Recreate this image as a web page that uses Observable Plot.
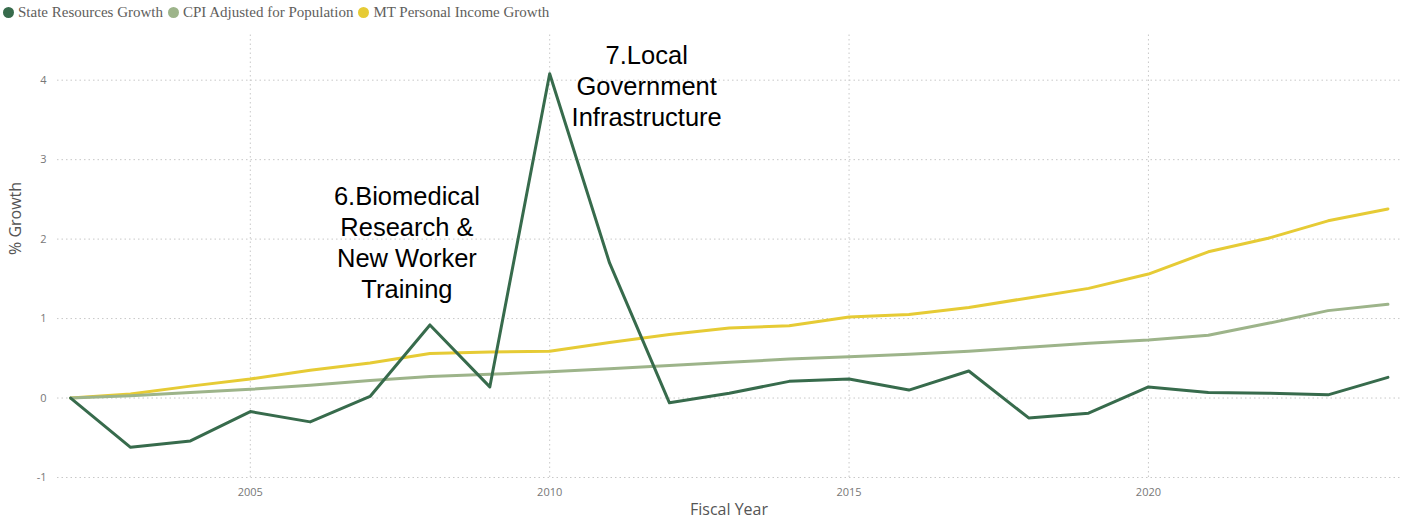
<!DOCTYPE html>
<html>
<head>
<meta charset="utf-8">
<script src="https://cdn.jsdelivr.net/npm/d3@7"></script>
<script src="https://cdn.jsdelivr.net/npm/@observablehq/plot@0.6"></script>
<style>
  html, body { margin: 0; padding: 0; background: #fff; }
  #legend { height: 25px; display: flex; align-items: center; font-family: "Liberation Serif", "DejaVu Serif", serif; font-size: 15px; color: #605e5c; padding-left: 3px; white-space: nowrap; }
  .item { display: flex; align-items: center; margin-right: 5px; }
  .dot { width: 11px; height: 11px; border-radius: 50%; margin-right: 4px; }
</style>
</head>
<body>
<div id="legend"></div>
<div id="chart"></div>
<script>
const years = [2002, 2003, 2004, 2005, 2006, 2007, 2008, 2009, 2010, 2011, 2012, 2013, 2014, 2015, 2016, 2017, 2018, 2019, 2020, 2021, 2022, 2023, 2024];
const seriesNames = ["State Resources Growth", "CPI Adjusted for Population", "MT Personal Income Growth"];
const seriesColors = ["#376b4c", "#9db48a", "#e6cb35"];
const stateResources = [0, -0.62, -0.54, -0.17, -0.30, 0.02, 0.92, 0.14, 4.08, 1.70, -0.06, 0.06, 0.21, 0.24, 0.10, 0.34, -0.25, -0.19, 0.14, 0.07, 0.06, 0.04, 0.26];
const cpiAdjusted = [0, 0.03, 0.07, 0.11, 0.16, 0.22, 0.27, 0.30, 0.33, 0.37, 0.41, 0.45, 0.49, 0.52, 0.55, 0.59, 0.64, 0.69, 0.73, 0.79, 0.94, 1.10, 1.18];
const personalIncome = [0, 0.05, 0.15, 0.24, 0.35, 0.44, 0.56, 0.58, 0.59, 0.70, 0.80, 0.88, 0.91, 1.02, 1.05, 1.14, 1.26, 1.38, 1.56, 1.84, 2.01, 2.23, 2.38];
const yTicks = [-1, 0, 1, 2, 3, 4];
const xTicks = [2005, 2010, 2015, 2020];
const annotationYears = [2008, 2010];
const annotationTexts = ["6.Biomedical\nResearch &\nNew Worker\nTraining", "7.Local\nGovernment\nInfrastructure"];

const valuesBySeries = [stateResources, cpiAdjusted, personalIncome];
const rows = [];
seriesNames.forEach((s, i) => years.forEach((y, j) => rows.push({series: s, year: y, value: valuesBySeries[i][j]})));

const annotations = annotationYears.map((y, i) => ({year: y, value: stateResources[years.indexOf(y)], text: annotationTexts[i]}));

// legend
const legend = document.getElementById("legend");
seriesNames.forEach((s, i) => {
  const it = document.createElement("div");
  it.className = "item";
  it.innerHTML = `<span class="dot" style="background:${seriesColors[i]}"></span><span>${s}</span>`;
  legend.appendChild(it);
});

const plot = Plot.plot({
  width: 1406,
  height: 499,
  marginTop: 7,
  marginBottom: 47,
  marginLeft: 57,
  marginRight: 6,
  style: {fontFamily: "'Open Sans', 'DejaVu Sans', sans-serif", background: "#fff"},
  x: {domain: [2001.78, 2024.21], ticks: xTicks, tickFormat: d => String(d), label: null},
  y: {domain: [-1, 4.6], ticks: yTicks, tickFormat: d => String(d), label: null},
  color: {domain: seriesNames, range: seriesColors},
  marks: [
    Plot.gridY(yTicks, {stroke: "#c8c8c8", strokeOpacity: 1, strokeDasharray: "1.5,3", strokeWidth: 1}),
    Plot.gridX(xTicks, {stroke: "#c8c8c8", strokeOpacity: 1, strokeDasharray: "1.5,3", strokeWidth: 1, y1: -1, y2: 4.6}),
    Plot.axisY(yTicks, {tickSize: 0, tickPadding: 11, fontSize: 11, fill: "#777", tickFormat: d => String(d), label: null}),
    Plot.axisX(xTicks, {tickSize: 0, tickPadding: 11, fontSize: 11, fill: "#777", tickFormat: d => String(d), label: null}),
    Plot.text(["% Growth"], {frameAnchor: "left", dx: -42, rotate: -90, fontSize: 16, fill: "#555"}),
    Plot.text(["Fiscal Year"], {frameAnchor: "bottom", dy: 37, fontSize: 16, fill: "#555"}),
    Plot.line(rows.filter(d => d.series !== seriesNames[0]).reverse(), {x: "year", y: "value", stroke: "series", z: "series", strokeWidth: 3, strokeLinejoin: "round", strokeLinecap: "round"}),
    Plot.line(rows.filter(d => d.series === seriesNames[0]), {x: "year", y: "value", stroke: "series", strokeWidth: 3, strokeLinejoin: "round", strokeLinecap: "round"}),
    Plot.text(annotations.slice(0, 1), {x: "year", y: "value", text: "text", fontFamily: "'Liberation Sans', Arial, sans-serif", fontSize: 25.5, lineHeight: 1.22, fill: "#000", textAnchor: "middle", lineAnchor: "bottom", dx: -23, dy: -27}),
    Plot.text(annotations.slice(1), {x: "year", y: "value", text: "text", fontFamily: "'Liberation Sans', Arial, sans-serif", fontSize: 25.5, lineHeight: 1.22, fill: "#000", textAnchor: "middle", lineAnchor: "top", dx: 97, dy: -32})
  ]
});
document.getElementById("chart").appendChild(plot);
</script>
</body>
</html>
